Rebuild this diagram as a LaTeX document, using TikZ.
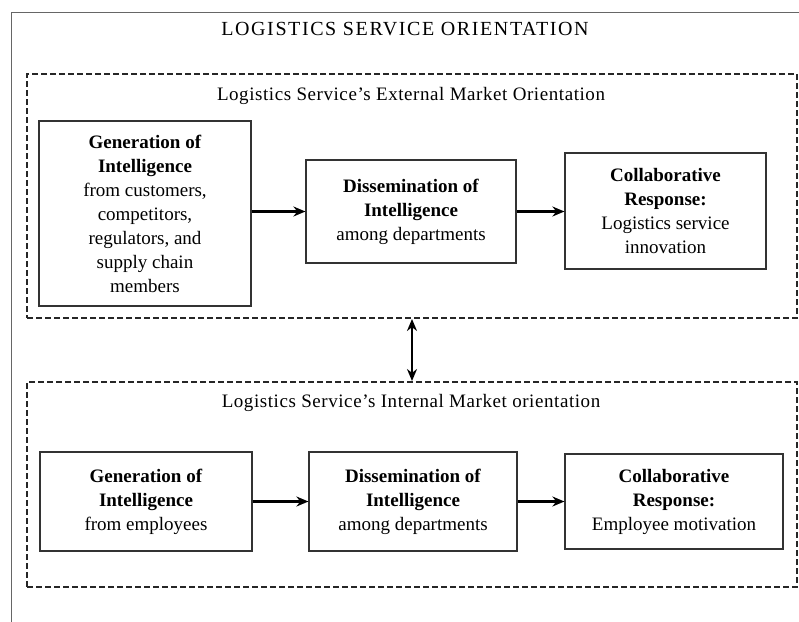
\documentclass[tikz,border=0pt]{standalone}
\usepackage{fontspec}
\setmainfont{Liberation Serif}
\usetikzlibrary{arrows.meta,calc}
\newcommand{\txtsize}{\fontsize{19}{24}\selectfont}

\begin{document}
\begin{tikzpicture}[x=1pt,y=-1pt,
  unit/.style={draw=black!80, line width=1.2pt, align=center, inner sep=0pt,
    font=\txtsize},
  market/.style={draw=black!85, line width=2pt, dash pattern=on 6pt off 3pt,
    inner sep=0pt},
  link/.style={-{Stealth[length=12pt,width=10pt]}, line width=2.8pt},
  both/.style={{Stealth[length=12pt,width=10pt]}-{Stealth[length=12pt,width=10pt]}, line width=2.8pt}]
  % fix the size of the page
  \useasboundingbox (0,0) rectangle (799,621);

  % outer frame (its right and lower sides fall off the page)
  \draw [black!60, line width=0.9pt] (11,12) rectangle (830,660);
  \node (title) at (405,29) {\fontsize{20}{24}\selectfont\addfontfeatures{LetterSpace=8}LOGISTICS SERVICE ORIENTATION};

  % the two dashed market boxes
  \node[market, minimum width=770, minimum height=244] (ext) at (412,196) {};
  \node[market, minimum width=770, minimum height=205] (int) at (412,484.5) {};
  \node[font=\txtsize] (exttitle) at (411,96) {\addfontfeatures{LetterSpace=3}Logistics Service's External Market Orientation};
  \node[font=\txtsize] (inttitle) at (411,403) {\addfontfeatures{LetterSpace=3}Logistics Service's Internal Market orientation};

  % external chain
  \node[unit, minimum width=212, minimum height=185] (gen1) at (145,213.5)
    {\textbf{Generation of}\\ \textbf{Intelligence}\\ from customers,\\ competitors,\\
     regulators, and\\ supply chain\\ members};
  \node[unit, minimum width=210, minimum height=103] (dis1) at (411,211.5)
    {\textbf{Dissemination of}\\ \textbf{Intelligence}\\ among departments};
  \node[unit, minimum width=201, minimum height=116] (res1) at (665.5,211)
    {\textbf{Collaborative}\\ \textbf{Response:}\\ Logistics service\\ innovation};

  % internal chain
  \node[unit, minimum width=212, minimum height=99] (gen2) at (146,501.5)
    {\textbf{Generation of}\\ \textbf{Intelligence}\\ from employees};
  \node[unit, minimum width=208, minimum height=99] (dis2) at (413,501.5)
    {\textbf{Dissemination of}\\ \textbf{Intelligence}\\ among departments};
  \node[unit, minimum width=218, minimum height=95] (res2) at (674,501.5)
    {\textbf{Collaborative}\\ \textbf{Response:}\\ Employee motivation};

  % arrows
  \draw [link] (gen1.east |- dis1.west) -- (dis1.west);
  \draw [link] (dis1.east) -- (res1.west |- dis1.east);
  \draw [link] (gen2) -- (dis2);
  \draw [link] (dis2) -- (res2);
  \draw [both] (ext.south) -- (int.north);
\end{tikzpicture}
\end{document}
